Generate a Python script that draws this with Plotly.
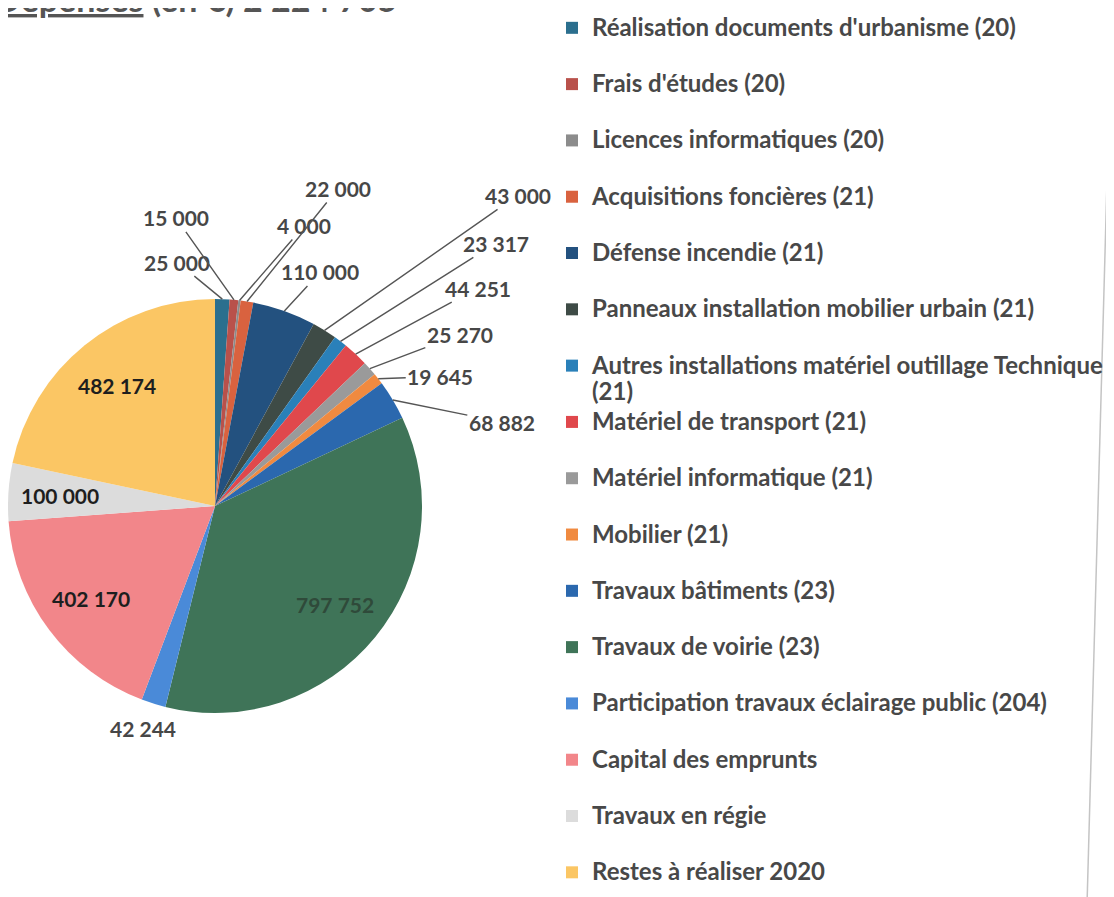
import math
import plotly.graph_objects as go

# ---------------- data ----------------
categories = [
    "Réalisation documents d'urbanisme (20)",
    "Frais d'études (20)",
    "Licences informatiques (20)",
    "Acquisitions foncières (21)",
    "Défense incendie (21)",
    "Panneaux installation mobilier urbain (21)",
    "Autres installations matériel outillage Technique<br>(21)",
    "Matériel de transport (21)",
    "Matériel informatique (21)",
    "Mobilier (21)",
    "Travaux bâtiments (23)",
    "Travaux de voirie (23)",
    "Participation travaux éclairage public (204)",
    "Capital des emprunts",
    "Travaux en régie",
    "Restes à réaliser 2020",
]
values = [25000, 15000, 4000, 22000, 110000, 43000, 23317, 44251, 25270,
          19645, 68882, 797752, 42244, 402170, 100000, 482174]
title_text = "<u>Dépenses</u> (en €) 2 224 705"

# ---------------- styles ----------------
colors = ["#2b6f8e", "#b9514b", "#8c8c8c", "#d9623f", "#23517f", "#3e4b46",
          "#2a80b9", "#e0484c", "#9a9a9a", "#f08a40", "#2b68ae", "#3f7458",
          "#4a8ad8", "#f2868a", "#dcdcdc", "#fbc664"]
inside_set = {"Travaux de voirie (23)", "Capital des emprunts",
              "Travaux en régie", "Restes à réaliser 2020"}
inside_colors = {"Travaux de voirie (23)": "#2f4a3a"}
# label offsets (pixels) from each slice's outer mid-point, for outside labels
label_offsets = {
    0: (-45, -37), 1: (-58, -82), 2: (65, -75), 3: (91, -113),
    4: (36, -39), 5: (193, -135), 6: (155, -98), 7: (122, -66),
    8: (90, -34), 9: (62, -2), 10: (109, 22), 12: (-10, 25),
}
no_line = {12}

W, H = 1114, 897
PAGE_OFF = 8                             # browser body margin
PIE_CX, PIE_CY, PIE_R = 215, 506, 207    # page pixels
INSIDE_K = 0.75
LABEL_FONT = dict(family="Lato", size=21, weight="bold", color="#474747")


def px2paper(x, y):
    return (x - PAGE_OFF) / W, 1 - (y - PAGE_OFF) / H


def fmt(v):
    return f"{v:,}".replace(",", " ")


legend_labels = [
    f"<span style='font-size:24px'>{c}</span>" + ("" if "<br>" in c else "<br> ")
    for c in categories
]

x0, y1 = px2paper(PIE_CX - PIE_R, PIE_CY - PIE_R)
x1, y0 = px2paper(PIE_CX + PIE_R, PIE_CY + PIE_R)

fig = go.Figure(go.Pie(
    labels=legend_labels,
    values=values,
    textinfo="none",
    sort=False,
    direction="clockwise",
    rotation=0,
    marker=dict(colors=colors, line=dict(width=0)),
    domain=dict(x=[x0, x1], y=[y0, y1]),
    hovertext=[fmt(v) for v in values],
    hoverinfo="text",
))

total = sum(values)
cum = 0
for i, (c, v) in enumerate(zip(categories, values)):
    mid = (cum + v / 2) / total * 2 * math.pi
    cum += v
    s, co = math.sin(mid), math.cos(mid)
    if c in inside_set:
        px_, py_ = px2paper(PIE_CX + INSIDE_K * PIE_R * s,
                            PIE_CY - INSIDE_K * PIE_R * co)
        fig.add_annotation(
            x=px_, y=py_, xref="paper", yref="paper",
            xanchor="center", yanchor="middle",
            text=fmt(v), showarrow=False,
            font=dict(LABEL_FONT, color=inside_colors.get(c, "#1e1e1e")),
        )
        continue
    dx, dy = label_offsets[i]
    ex, ey = PIE_CX + PIE_R * s, PIE_CY - PIE_R * co
    if i in no_line:
        lx, ly = px2paper(ex + dx, ey + dy)
        fig.add_annotation(
            x=lx, y=ly, xref="paper", yref="paper",
            xanchor="center", yanchor="middle",
            text=fmt(v), showarrow=False, font=LABEL_FONT,
        )
    else:
        px_, py_ = px2paper(ex, ey)
        fig.add_annotation(
            x=px_, y=py_, xref="paper", yref="paper",
            ax=dx, ay=dy, text=fmt(v), showarrow=True,
            arrowhead=0, arrowwidth=1.4, arrowcolor="#555555",
            standoff=0, startstandoff=0, font=LABEL_FONT,
        )

tx, _ = px2paper(400, 0)
fig.add_annotation(
    text=title_text,
    xref="paper", yref="paper", x=tx, y=1,
    xanchor="right", yanchor="middle", yshift=10,
    showarrow=False,
    font=dict(family="Lato", size=34, weight="bold", color="#555555"),
)

# faint scanned page edge on the right
ax0, ay0 = px2paper(1112, 0)
ax1, ay1 = px2paper(1087, 905)
fig.add_shape(type="line", xref="paper", yref="paper",
              x0=ax0, y0=ay0, x1=ax1, y1=ay1,
              line=dict(color="#c4c4c4", width=1.5))

lgx, lgy = px2paper(552, 31)
fig.update_layout(
    width=W, height=H,
    margin=dict(l=0, r=0, t=0, b=0),
    paper_bgcolor="white", plot_bgcolor="white",
    showlegend=True,
    legend=dict(
        x=lgx, y=lgy, xanchor="left", yanchor="top",
        font=dict(family="Lato", size=20.5, weight="bold", color="#484848"),
        valign="top", itemwidth=30, traceorder="normal",
        bgcolor="rgba(0,0,0,0)", maxheight=2000,
    ),
)

fig.write_html("out.html")
